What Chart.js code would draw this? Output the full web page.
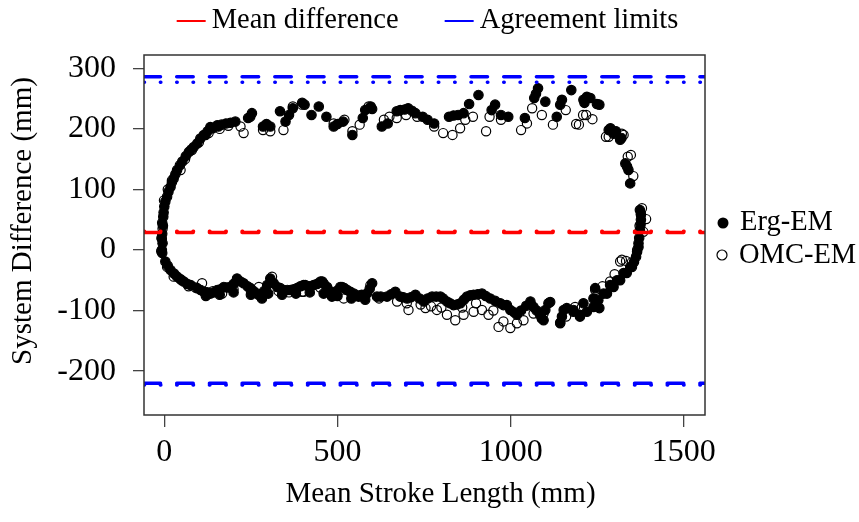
<!DOCTYPE html>
<html lang="en">
<head>
<meta charset="UTF-8">
<title>System difference vs mean stroke length</title>
<script src="https://cdn.jsdelivr.net/npm/chart.js@4"></script>
<style>
  html, body { margin: 0; padding: 0; background: #fff; }
  #wrap { width: 859px; height: 522px; }
</style>
</head>
<body>
<div id="wrap"><canvas id="myChart"></canvas></div>
<script>
// Erg-EM (filled circles)
const ergX = [
  -6, -7, -5, -8, -6,   -4, -6, -3, -2, 0,   3, 8, 12, 18, 22,   27, 32, 37, 45, 52,
  62, 71, 78, 85, 95,   104, 114, 119, 125, 133,   140, 153, 156, 165, 178,   191, 205,
  242, 248, 253, 285, 295,   306, 334, 350, 360, 371,   398, 405, 425, 446, 468,
  489, 500, 516, 543, 573,   580, 596, 600, 628, 645,   671, 681, 694, 704, 715,
  725, 746, 760, 779, 822,   835, 848, 864, 880, 907,   945, 955, 972, 993, 1041,
  1068, 1073, 1079, 1100, 1133,   1143, 1148, 1175, 1210, 1213,   1220, 1230, 1249, 1256, 1283,
  1288, 1297, 1304, 1316, 1320,   1331, 1336, 1340, 1345,
  1373, 1376, 1376, 1375, 1373,   1371, 1369, 1369, 1365, 1362,   1356, 1350, 1345, 1335, 1326,
  1316, 1307, 1297, 1287, 1278,   1268, 1256, 1253, 1244, 1239,   1239, 1220, 1210, 1200, 1200,
  1181, 1181, 1162, 1153, 1148,   1143, 1114, 1109, 1100, 1095,   1090, 1085, 1075, 1066, 1057,
  1045, 1030, 1018, 1010, 999,   989, 979, 970, 955, 941,   928, 917, 905, 893, 883,
  874, 865, 855, 845, 835,   825, 816, 805, 797, 785,   773, 760, 749, 737, 725,
  712, 701, 690, 681, 667,   655, 643, 625, 614, 600,   593, 585, 570, 561, 547,
  537, 528, 520, 513, 508,   497, 489, 484, 478, 470,   461, 456, 451, 441, 431,
  420, 407, 402, 393, 383,   373, 364, 355, 345, 335,   326, 316, 306, 297, 288,
  282, 275, 268, 258, 249,   240, 229, 220, 210, 200,   191, 182, 172, 162, 153,
  143, 133, 124, 114, 105,   95, 76, 66, 56, 46,   37, 28, 18, 10, 3,
  120, 160, 200, 250, 300,   340, 380, 420, 460, 500,   540, 580
];
const ergY = [
  -5, 0, 11, 20, 27,   40, 45, 55, 62, 72,   80, 88, 96, 104, 112,   118, 125, 132, 140, 146,
  155, 162, 166, 170, 176,   184, 190, 190, 196, 203,   201, 206, 204, 207, 209,   210, 212,
  218, 220, 226, 204, 208,   204, 229, 212, 223, 234,   243, 240, 223, 237, 220,
  204, 208, 212, 190, 218,   231, 237, 233, 204, 209,   229, 231, 232, 234, 230,
  226, 220, 215, 209, 220,   222, 223, 226, 241, 256,   231, 240, 223, 220, 218,
  251, 258, 267, 245, 220,   240, 248, 264, 248, 243,   253, 251, 241, 240, 198,
  201, 192, 196, 182, 185,   143, 138, 132, 110,
  66, 58, 50, 42, 33,   20, 11, 5, -3, -11,   -20, -28, -28, -38, -38,
  -50, -50, -61, -58, -72,   -72, -96, -83, -63, -94,   -80, -102, -88, -107, -110,
  -102, -99, -96, -99, -110,   -120, -86, -88, -99, -116,   -113, -107, -100, -94, -85,
  -92, -100, -107, -103, -99,   -91, -91, -88, -84, -80,   -76, -72, -73, -74, -75,
  -77, -82, -88, -90, -91,   -88, -85, -80, -77, -77,   -77, -80, -85, -80, -74,
  -78, -80, -78, -77, -69,   -73, -77, -77, -77, -55,   -64, -72, -74, -77, -72,
  -69, -66, -63, -61, -61,   -68, -72, -77, -68, -61,   -56, -52, -52, -56, -58,
  -60, -58, -58, -60, -63,   -65, -66, -66, -66, -63,   -61, -55, -47, -58, -68,
  -80, -75, -72, -68, -63,   -60, -55, -52, -47, -56,   -61, -62, -61, -65, -66,
  -70, -72, -70, -69, -66,   -63, -58, -56, -52, -48,   -44, -39, -33, -26, -19,
  -76, -74, -70, -74, -72,   -74, -72, -70, -72, -76,   -80, -82
];

// OMC-EM (open circles)
const omcX = [
  -9, -7, -5, -1, 10,   22, 47, 60, 80, 100,   128, 160, 185, 220, 229,
  285, 306, 344, 371, 397,   489, 520, 543, 564, 590,   634, 650, 671, 698, 730,
  779, 805, 832, 854, 869,   891, 929, 939, 972, 1030,   1047, 1062, 1090, 1122, 1159,
  1189, 1197, 1209, 1218, 1236,   1275, 1283, 1321, 1326, 1338,   1347, 1354, 1379, 1391, 1383,
  1376, 1372, 1365, 1350, 1333,   1321, 1316, 1300, 1287, 1265,   1244, 1205, 1186, 1160, 1143,
  1095, 1090, 1066, 1037, 1018,   999, 979, 965, 950, 936,   917, 900, 893, 864, 860,
  840, 816, 800, 787, 770,   754, 740, 705, 700, 672,   620, 595, 560, 518, 480,
  450, 402, 398, 360, 330,   311, 273, 250, 200, 167,   140, 109, 90, 70, 50,
  27, 8
];
const omcY = [
  -2, 18, 35, 82, 100,   115, 132, 150, 165, 178,   193, 200, 205, 204, 193,
  198, 196, 198, 237, 240,   209, 215, 196, 207, 237,   215, 220, 218, 223, 220,
  204, 193, 190, 201, 215,   220, 196, 220, 215, 198,   209, 234, 223, 207, 231,
  208, 207, 223, 223, 216,   187, 187, 192, 190, 154,   157, 122, 69, 51, 30,
  60, 40, 0, -20, -18,   -16, -19, -40, -52, -60,   -66, -95, -94, -110, -121,
  -105, -113, -105, -116, -121,   -129, -118, -127, -100, -107,   -99, -88, -102, -107, -95,
  -116, -107, -95, -99, -93,   -96, -90, -99, -88, -85,   -80, -58, -75, -80, -70,
  -62, -69, -69, -70, -68,   -44, -61, -68, -65, -72,   -68, -55, -62, -60, -50,
  -44, -28
];

// reference lines: [Erg-EM, OMC-EM]
const meanDiff = [29, 31];
const upperLimit = [286, 277];
const lowerLimit = [-220, -223];

const xTicks = [0, 500, 1000, 1500];
const yTicks = [-200, -100, 0, 100, 200, 300];
const xMin = -58.6, xMax = 1561;
const yMin = -272.5, yMax = 322;

const serif = '"Liberation Serif", "Times New Roman", serif';
Chart.defaults.font.family = serif;
Chart.defaults.color = '#000';

const dashed = [16.5, 16.2];
const dotted = [0.5, 15.85];

function hLine(label, value, color, dash) {
  return {
    type: 'line',
    label: label,
    data: [{x: xMin, y: value}, {x: xMax, y: value}],
    borderColor: color,
    borderWidth: 3.5,
    borderDash: dash,
    borderCapStyle: 'round',
    pointRadius: 0,
    showLine: true,
    fill: false,
    order: 0
  };
}

// box round the plot, the two legends and the axis titles
const frame = {
  id: 'frame',
  afterDraw(chart) {
    const {ctx, chartArea: a} = chart;
    ctx.save();
    ctx.strokeStyle = '#333';
    ctx.lineWidth = 1.5;
    ctx.strokeRect(a.left, a.top, a.right - a.left, a.bottom - a.top);

    ctx.font = '28.5px ' + serif;
    ctx.fillStyle = '#000';
    ctx.textBaseline = 'alphabetic';

    // top legend
    const items = [['Mean difference', '#ff0000'], ['Agreement limits', '#0000ff']];
    const wLine = 29, gapText = 6, gapItem = 46;
    const widths = items.map(it => ctx.measureText(it[0]).width);
    const total = widths[0] + widths[1] + 2 * (wLine + gapText) + gapItem;
    let x = (a.left + a.right) / 2 + 3 - total / 2;
    items.forEach((it, i) => {
      ctx.strokeStyle = it[1];
      ctx.lineWidth = 2;
      ctx.beginPath();
      ctx.moveTo(x, a.top - 34);
      ctx.lineTo(x + wLine, a.top - 34);
      ctx.stroke();
      ctx.fillText(it[0], x + wLine + gapText, a.top - 27);
      x += wLine + gapText + widths[i] + gapItem;
    });

    // right legend
    const lx = a.right + 18;
    ctx.beginPath();
    ctx.arc(lx, a.top + 168, 5.5, 0, 2 * Math.PI);
    ctx.fill();
    ctx.strokeStyle = '#000';
    ctx.lineWidth = 1.2;
    ctx.beginPath();
    ctx.arc(lx - 1, a.top + 200, 5, 0, 2 * Math.PI);
    ctx.stroke();
    ctx.fillText('Erg-EM', a.right + 35, a.top + 175);
    ctx.fillText('OMC-EM', a.right + 34, a.top + 208);

    // axis titles
    ctx.font = '29px ' + serif;
    ctx.textAlign = 'center';
    ctx.fillText('Mean Stroke Length (mm)', (a.left + a.right) / 2 + 16, 502);
    ctx.translate(31, (a.top + a.bottom) / 2 - 14);
    ctx.rotate(-Math.PI / 2);
    ctx.fillText('System Difference (mm)', 0, 0);
    ctx.restore();
  }
};

const ctx = document.getElementById('myChart').getContext('2d');
new Chart(ctx, {
  type: 'scatter',
  data: {
    datasets: [
      hLine('Mean difference', meanDiff[0], '#ff0000', dashed),
      hLine('Mean difference', meanDiff[1], '#ff0000', dotted),
      hLine('Agreement limits', upperLimit[0], '#0000ff', dashed),
      hLine('Agreement limits', upperLimit[1], '#0000ff', dotted),
      hLine('Agreement limits', lowerLimit[0], '#0000ff', dashed),
      hLine('Agreement limits', lowerLimit[1], '#0000ff', dotted),
      {
        label: 'Erg-EM',
        data: ergX.map((x, i) => ({x: x, y: ergY[i]})),
        pointRadius: 4.7,
        pointBorderWidth: 1.2,
        pointBackgroundColor: '#000',
        pointBorderColor: '#000',
        order: 1
      },
      {
        label: 'OMC-EM',
        data: omcX.map((x, i) => ({x: x, y: omcY[i]})),
        pointRadius: 4.6,
        pointBorderWidth: 1.2,
        pointBackgroundColor: 'rgba(0,0,0,0)',
        pointBorderColor: '#000',
        order: 2
      }
    ]
  },
  options: {
    responsive: true,
    maintainAspectRatio: false,
    animation: false,
    events: [],
    layout: { padding: { left: 0, top: 55, right: 154, bottom: 0 } },
    plugins: {
      legend: { display: false },
      tooltip: { enabled: false }
    },
    scales: {
      x: {
        type: 'linear',
        min: xMin,
        max: xMax,
        afterBuildTicks: s => { s.ticks = xTicks.map(v => ({value: v})); },
        afterFit: s => { s.height = 107; },
        border: { display: false },
        grid: { drawOnChartArea: false, drawTicks: true, tickLength: 12, color: '#444', lineWidth: 1.3 },
        ticks: { autoSkip: false, maxRotation: 0, padding: 6, color: '#000', font: { size: 32 }, callback: v => v }
      },
      y: {
        type: 'linear',
        min: yMin,
        max: yMax,
        afterBuildTicks: s => { s.ticks = yTicks.map(v => ({value: v})); },
        afterFit: s => { s.width = 144; },
        border: { display: false },
        grid: { drawOnChartArea: false, drawTicks: true, tickLength: 11, color: '#444', lineWidth: 1.3 },
        ticks: { autoSkip: false, padding: 17, color: '#000', font: { size: 32 }, callback: v => v }
      }
    }
  },
  plugins: [frame]
});
</script>
</body>
</html>
